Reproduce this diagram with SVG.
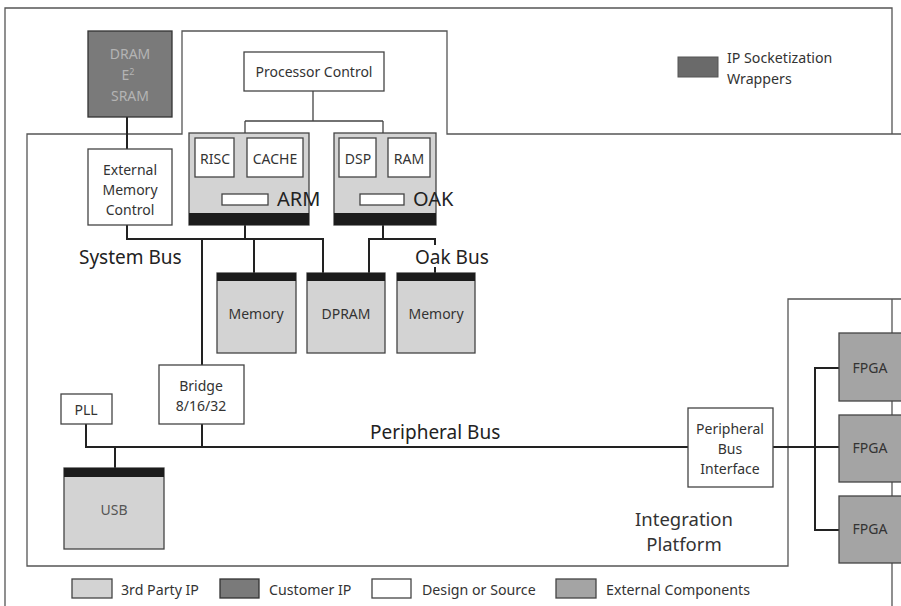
<svg xmlns="http://www.w3.org/2000/svg" width="901" height="606" viewBox="0 0 901 606">
  <style>
    text { font-family: "Noto Sans", "Open Sans", "Liberation Sans", sans-serif; fill: #333; }
    .frame { fill: none; stroke: #555; stroke-width: 1.3; }
    .plat { fill: #fff; stroke: #555; stroke-width: 1.3; }
    .box { fill: #fff; stroke: #444; stroke-width: 1.3; }
    .third { fill: #d3d3d3; stroke: #444; stroke-width: 1.3; }
    .cust { fill: #7a7a7a; stroke: #333; stroke-width: 1.3; }
    .ext { fill: #a4a4a4; stroke: #444; stroke-width: 1.3; }
    .wrap { fill: #1c1c1c; }
    .lbl { font-size: 14px; text-anchor: middle; }
    .bus { font-size: 19px; fill: #222; }
    .leg { font-size: 14.2px; fill: #333; }
    .wire { fill: none; stroke: #222; stroke-width: 2; }
    .thin { fill: none; stroke: #444; stroke-width: 1.3; }
  </style>

  <!-- outer frame -->
  <path class="frame" d="M5,608 V8 H892 V608"/>

  <!-- integration platform outline -->
  <path id="platform" class="plat" d="M27,134 H182 V31 H447 V134 H903 V299 H788 V566 H27 Z"/>

  <!-- connectors -->
  <g id="connectors">
    <!-- processor control fan-out -->
    <path class="thin" d="M313,91 V121 M245,121 H383 M245,121 V133 M383,121 V133"/>
    <!-- internal processor wiring -->
    <path class="thin" d="M214,177 V182 H275 V177 M245,182 V194 M245,205 V213"/>
    <path class="thin" d="M357,177 V182 H409 V177 M383,182 V194 M383,205 V213"/>
    <!-- DRAM to external memory control -->
    <path class="wire" d="M127,117 V149"/>
    <!-- system bus -->
    <path class="wire" d="M127,225 V239 H323 V273 M245,225 V239 M254,239 V273 M202,239 V365"/>
    <!-- oak bus -->
    <path class="wire" d="M383,225 V239 M369,273 V239 H435 V245 M435,267 V273"/>
    <!-- peripheral bus -->
    <path class="wire" d="M86,424 V447 H688 M202,424 V447 M115,447 V468"/>
    <!-- external FPGA links -->
    <path class="wire" d="M773,447 H839 M839,368 H815 V530 H839"/>
  </g>

  <!-- legend entry at top right -->
  <g id="legend-wrappers">
    <rect x="678" y="57" width="40" height="20" fill="#6a6a6a" stroke="#555" stroke-width="1"/>
    <text class="leg" x="727" y="63">IP Socketization</text>
    <text class="leg" x="727" y="84">Wrappers</text>
  </g>

  <g id="dram">
    <rect class="cust" x="88" y="31" width="84" height="86"/>
    <text class="lbl" x="130" y="59" style="fill:#b4b4b4">DRAM</text>
    <text class="lbl" x="128" y="80" style="fill:#b4b4b4">E<tspan font-size="9" dy="-5">2</tspan></text>
    <text class="lbl" x="130" y="101" style="fill:#b4b4b4">SRAM</text>
  </g>

  <g id="ext-mem-ctrl">
    <rect class="box" x="88" y="149" width="84" height="76"/>
    <text class="lbl" x="130" y="175">External</text>
    <text class="lbl" x="130" y="195">Memory</text>
    <text class="lbl" x="130" y="215">Control</text>
  </g>

  <g id="proc-ctrl">
    <rect class="box" x="244" y="52" width="140" height="39"/>
    <text class="lbl" x="314" y="77">Processor Control</text>
  </g>

  <g id="arm">
    <rect class="third" x="189" y="133" width="120" height="92"/>
    <rect class="wrap" x="189" y="213" width="120" height="12"/>
    <rect class="box" x="195" y="138" width="39" height="39"/>
    <text class="lbl" x="215" y="164">RISC</text>
    <rect class="box" x="247" y="138" width="56" height="39"/>
    <text class="lbl" x="275" y="164">CACHE</text>
    <rect class="box" x="222" y="194" width="46" height="11"/>
    <text x="277" y="206" style="font-size:20px;fill:#222">ARM</text>
  </g>

  <g id="oak">
    <rect class="third" x="334" y="133" width="102" height="92"/>
    <rect class="wrap" x="334" y="213" width="102" height="12"/>
    <rect class="box" x="339" y="138" width="37" height="39"/>
    <text class="lbl" x="358" y="164">DSP</text>
    <rect class="box" x="388" y="138" width="42" height="39"/>
    <text class="lbl" x="409" y="164">RAM</text>
    <rect class="box" x="360" y="194" width="44" height="11"/>
    <text x="413" y="206" style="font-size:20px;fill:#222">OAK</text>
  </g>

  <text class="bus" x="79" y="264">System Bus</text>
  <text class="bus" x="415" y="264">Oak Bus</text>
  <text class="bus" x="370" y="439">Peripheral Bus</text>

  <g id="memory-arm">
    <rect class="third" x="217" y="273" width="79" height="80"/>
    <rect class="wrap" x="217" y="273" width="79" height="8"/>
    <text class="lbl" x="256" y="319">Memory</text>
  </g>

  <g id="dpram">
    <rect class="third" x="307" y="273" width="78" height="80"/>
    <rect class="wrap" x="307" y="273" width="78" height="8"/>
    <text class="lbl" x="346" y="319">DPRAM</text>
  </g>

  <g id="memory-oak">
    <rect class="third" x="397" y="273" width="78" height="80"/>
    <rect class="wrap" x="397" y="273" width="78" height="8"/>
    <text class="lbl" x="436" y="319">Memory</text>
  </g>

  <g id="bridge">
    <rect class="box" x="159" y="365" width="85" height="59"/>
    <text class="lbl" x="201" y="391">Bridge</text>
    <text class="lbl" x="201" y="411">8/16/32</text>
  </g>

  <g id="pll">
    <rect class="box" x="61" y="394" width="51" height="30"/>
    <text class="lbl" x="86" y="415">PLL</text>
  </g>

  <g id="usb">
    <rect class="third" x="64" y="468" width="100" height="81"/>
    <rect class="wrap" x="64" y="468" width="100" height="9"/>
    <text class="lbl" x="114" y="515" style="fill:#555">USB</text>
  </g>

  <g id="pbi">
    <rect class="box" x="688" y="408" width="85" height="79"/>
    <text class="lbl" x="730" y="434">Peripheral</text>
    <text class="lbl" x="730" y="454">Bus</text>
    <text class="lbl" x="730" y="474">Interface</text>
  </g>

  <g id="fpga-1">
    <rect class="ext" x="839" y="333" width="70" height="68"/>
    <text class="lbl" x="870" y="373">FPGA</text>
  </g>
  <g id="fpga-2">
    <rect class="ext" x="839" y="415" width="70" height="67"/>
    <text class="lbl" x="870" y="453">FPGA</text>
  </g>
  <g id="fpga-3">
    <rect class="ext" x="839" y="496" width="70" height="67"/>
    <text class="lbl" x="870" y="534">FPGA</text>
  </g>

  <text x="684" y="526" style="font-size:18.5px;text-anchor:middle;fill:#333">Integration</text>
  <text x="684" y="551" style="font-size:18.5px;text-anchor:middle;fill:#333">Platform</text>

  <!-- legend -->
  <g id="legend">
    <rect class="third" x="72" y="579" width="40" height="19"/>
    <text class="leg" x="121" y="595">3rd Party IP</text>
    <rect class="cust" x="220" y="579" width="39" height="19"/>
    <text class="leg" x="269" y="595">Customer IP</text>
    <rect class="box" x="372" y="579" width="39" height="19"/>
    <text class="leg" x="422" y="595">Design or Source</text>
    <rect class="ext" x="556" y="579" width="40" height="19"/>
    <text class="leg" x="606" y="595">External Components</text>
  </g>
</svg>
